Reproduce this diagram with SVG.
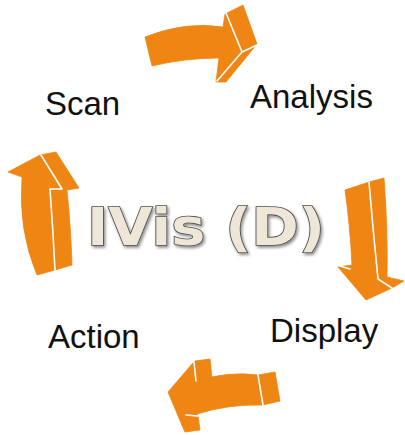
<svg xmlns="http://www.w3.org/2000/svg" width="405" height="435" viewBox="0 0 405 435">
<defs>
<style>
.face{fill:#EF8513;stroke:#EF8513;stroke-width:0.8;stroke-linejoin:round}
.edge{fill:none;stroke:#FFFFFF;stroke-width:1.6;stroke-linejoin:round;stroke-linecap:round}
.lbl{font-family:"Liberation Sans",Arial,sans-serif;font-size:33px;fill:#111111}
.title{font-family:"DejaVu Sans",Verdana,sans-serif;font-weight:bold;font-size:51px;fill:#EEE7D7;stroke:#505050;stroke-width:1.6;paint-order:stroke fill}
</style>
<filter id="sh" x="-10%" y="-30%" width="120%" height="160%">
<feDropShadow dx="1.5" dy="2" stdDeviation="1.5" flood-color="#000000" flood-opacity="0.45"/>
</filter>
</defs>
<rect width="405" height="435" fill="#FFFFFF"/>
<g id="connectors">
<g id="arrow-top">
<path class="face" d="M145,37 Q185,21 223,27 L225,14 L243,5 L257,44 L226,82 L216,82 L219,58 Q185,58 152,66 Z"/>
<path class="edge" d="M226,13 L242,52 L217,81 M242,52 L257,45"/>
</g>
<g id="arrow-right">
<path class="face" d="M345,190 L369,182 L384,178 Q388,230 387,277 L404,281 L392,288 L366,300 L338,267 L352,265 Q350,225 345,190 Z"/>
<path class="edge" d="M369,182 Q373,230 378,279 L392,288 M340,266 L350,269"/>
</g>
<g id="arrow-bottom">
<path class="face" d="M168,392 L192,364 L195,361 L210,359 L212,378 L197,381 Q228,371 258,375 L275,372 L280,401 L263,405 Q228,404 197,414 L198,416 L200,430 L185,432 L184,430 Z"/>
<path class="edge" d="M194,362 L196,381 M258,375 L263,405 M186,415 L198,416"/>
</g>
<g id="arrow-left">
<path class="face" d="M8,172 L40,155 L56,152 L79,188 L67,190 Q71,230 72,265 L55,270 L37,275 Q18,230 22,177 Z"/>
<path class="edge" d="M41,155 L62,189 L50,189 Q53,230 55,270"/>
</g>
</g>
<g id="node-scan"><text class="lbl" x="45" y="115">Scan</text></g>
<g id="node-analysis"><text class="lbl" x="250" y="108">Analysis</text></g>
<g id="node-display"><text class="lbl" x="270" y="342">Display</text></g>
<g id="node-action"><text class="lbl" x="48" y="348">Action</text></g>
<g id="node-center"><text class="title" x="206" y="245" text-anchor="middle" textLength="238" lengthAdjust="spacingAndGlyphs" filter="url(#sh)">IVis (D)</text></g>
</svg>
